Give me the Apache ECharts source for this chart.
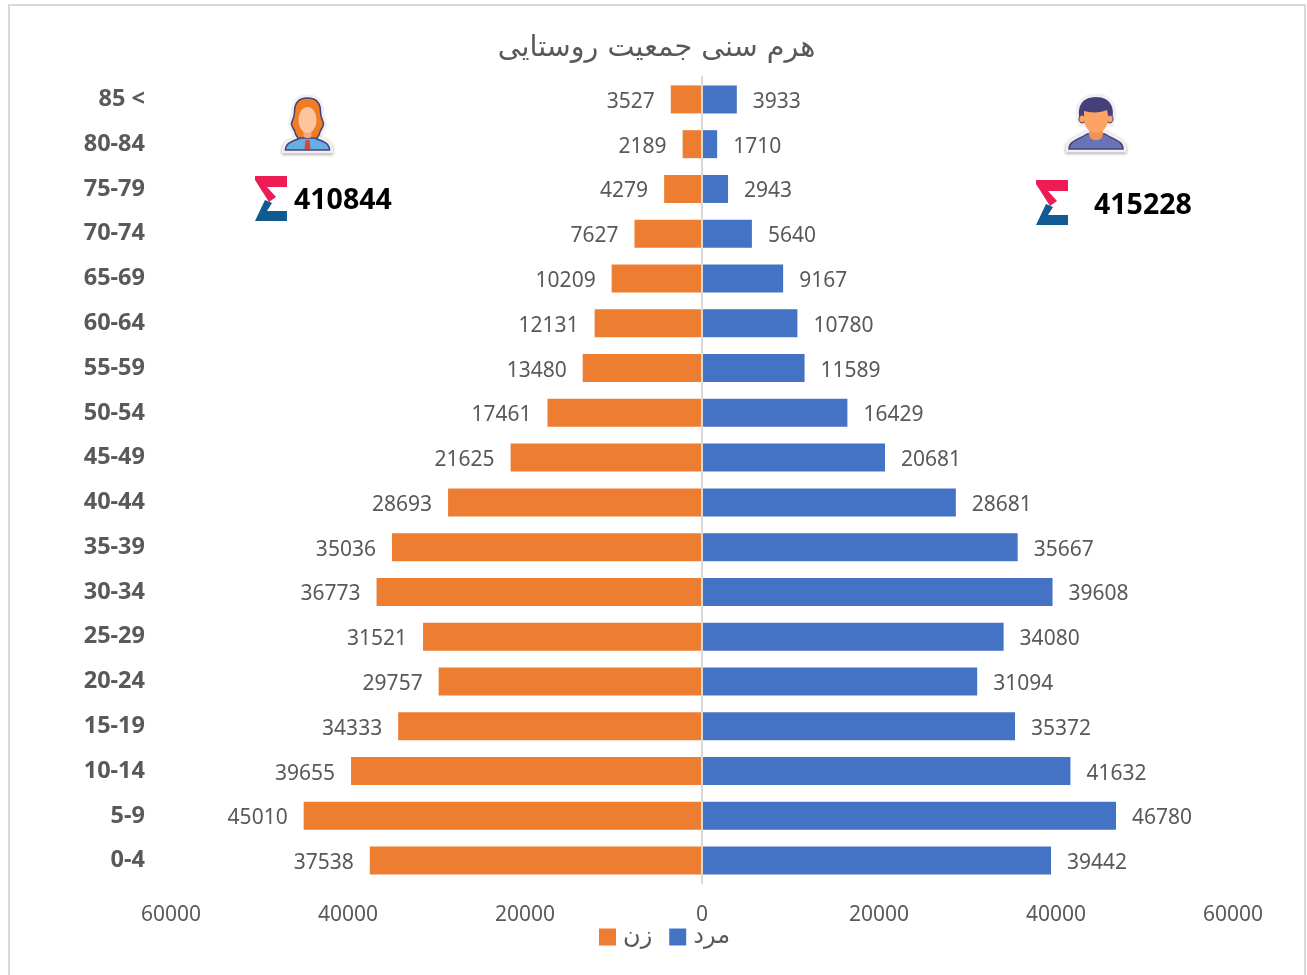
<!DOCTYPE html>
<html>
<head>
<meta charset="utf-8">
<title>هرم سنی جمعیت روستایی</title>
<script src="https://cdn.jsdelivr.net/npm/echarts@6/dist/echarts.min.js"></script>
<style>
  html, body { margin: 0; padding: 0; background: #fff; }
  #chart { width: 1307px; height: 975px; }
</style>
</head>
<body>
<div id="chart"></div>
<script>
const ageGroups = ['0-4','5-9','10-14','15-19','20-24','25-29','30-34','35-39','40-44','45-49','50-54','55-59','60-64','65-69','70-74','75-79','80-84','85 <'];
const women = [37538,45010,39655,34333,29757,31521,36773,35036,28693,21625,17461,13480,12131,10209,7627,4279,2189,3527];
const men = [39442,46780,41632,35372,31094,34080,39608,35667,28681,20681,16429,11589,10780,9167,5640,2943,1710,3933];
const womenTotal = '410844';
const menTotal = '415228';

const grey = '#595959';
const ink = '#46407a';
const pale = '#f0f0f0';
const font = '"Noto Sans", sans-serif';
const persianFont = '"DejaVu Sans", sans-serif';

// icon outlines, registered so the graphic component can use them by name
const iconPaths = {
  womanHair: 'M0 5C-10 5 -13 11 -13 19C-13 25 -16 28 -16 31C-16 35 -12 37 -12 41L-9 46L9 46L12 41C12 37 16 35 16 31C16 28 13 25 13 19C13 11 10 5 0 5Z',
  womanBody: 'M-22 57C-22 50 -15 48 -7 45L7 45C15 48 22 50 22 57Z',
  manHair: 'M-15 30C-20 18 -17 4 0 4C15 4 20 16 15 30Z',
  manBody: 'M-27 56C-27 48 -18 47 -9 41L9 41C18 47 27 48 27 56Z',
  manFace: 'M-12 18C-5 20 5 20 11 17C12 20 12 24 12 27C12 34 6 40 0 40C-6 40 -12 34 -12 27Z'
};
Object.keys(iconPaths).forEach(function (name) {
  echarts.graphic.registerShape(name, echarts.graphic.extendPath(iconPaths[name], {}));
});

// sigma logo, red top half and blue bottom half
function sigma(x, y) {
  return {
    type: 'group', x: x, y: y, silent: true,
    children: [
      { type: 'polygon', shape: { points: [[0, 0], [32, 0], [32, 11], [12, 11], [21, 21], [14, 26], [0, 4]] }, style: { fill: '#ee1c54' } },
      { type: 'polygon', shape: { points: [[0, 45], [10, 24], [17, 27], [12, 35], [32, 35], [32, 45]] }, style: { fill: '#125a92' } }
    ]
  };
}

function woman(x, y) {
  return {
    type: 'group', x: x, y: y, silent: true,
    children: [
      { type: 'womanHair', style: { fill: pale, stroke: pale, lineWidth: 7 } },
      { type: 'womanBody', style: { fill: pale, stroke: pale, lineWidth: 7, shadowBlur: 3, shadowColor: '#999', shadowOffsetY: 1 } },
      { type: 'womanHair', style: { fill: '#ef7d22', stroke: ink, lineWidth: 1.5 } },
      { type: 'womanBody', style: { fill: '#64b0e4', stroke: ink, lineWidth: 1.5 } },
      { type: 'polygon', shape: { points: [[-2, 47], [2, 47], [3, 56], [-3, 56]] }, style: { fill: '#d8473c' } },
      { type: 'rect', shape: { x: -4, y: 34, width: 8, height: 11, r: 3 }, style: { fill: '#f4a97e' } },
      { type: 'ellipse', shape: { cx: 0, cy: 27, rx: 9, ry: 13 }, style: { fill: '#fdc49e' } }
    ]
  };
}

function man(x, y) {
  return {
    type: 'group', x: x, y: y, silent: true,
    children: [
      { type: 'manHair', style: { fill: pale, stroke: pale, lineWidth: 7 } },
      { type: 'manBody', style: { fill: pale, stroke: pale, lineWidth: 7, shadowBlur: 3, shadowColor: '#999', shadowOffsetY: 1 } },
      { type: 'manBody', style: { fill: '#6a72b8', stroke: ink, lineWidth: 1.5 } },
      { type: 'manHair', style: { fill: ink } },
      { type: 'ellipse', shape: { cx: -14, cy: 26, rx: 3, ry: 4 }, style: { fill: '#fba465', stroke: ink, lineWidth: 1 } },
      { type: 'ellipse', shape: { cx: 14, cy: 26, rx: 3, ry: 4 }, style: { fill: '#fba465', stroke: ink, lineWidth: 1 } },
      { type: 'rect', shape: { x: -7, y: 33, width: 14, height: 14, r: 6 }, style: { fill: '#f09355' } },
      { type: 'manFace', style: { fill: '#fba465' } }
    ]
  };
}

function totalText(x, y, text) {
  return { type: 'text', silent: true, style: { x: x, y: y, text: text, fill: '#000', font: 'bold 28.5px ' + font, textVerticalAlign: 'middle' } };
}

const chart = echarts.init(document.getElementById('chart'));
chart.setOption({
  animation: false,
  backgroundColor: '#fff',
  title: {
    text: 'هرم سنی جمعیت روستایی',
    left: 651.5,
    top: 29,
    textAlign: 'center',
    textStyle: { color: grey, fontSize: 28.6, fontWeight: 'normal', fontFamily: persianFont }
  },
  legend: {
    data: ['زن', 'مرد'],
    left: 594,
    top: 920,
    itemWidth: 17,
    itemHeight: 17,
    itemGap: 17,
    icon: 'rect',
    textStyle: { color: grey, fontSize: 24, fontFamily: persianFont, padding: [12, 0, 0, 2] }
  },
  grid: { left: 171, right: 74, top: 77, bottom: 92 },
  xAxis: {
    type: 'value',
    min: -60000,
    max: 60000,
    interval: 20000,
    splitLine: { show: false },
    axisLine: { show: false },
    axisTick: { show: false },
    axisLabel: {
      color: grey,
      fontSize: 21,
      fontFamily: font,
      margin: 22,
      formatter: function (v) { return Math.abs(v); }
    }
  },
  yAxis: {
    type: 'category',
    z: 5,
    data: ageGroups,
    axisLine: { onZero: true, lineStyle: { color: '#d9d9d9', width: 2 } },
    axisTick: { show: false },
    axisLabel: {
      color: grey,
      fontSize: 23.5,
      fontWeight: 'bold',
      fontFamily: font,
      margin: 26,
      padding: [5, 0, 0, 0]
    }
  },
  series: [
    {
      name: 'زن',
      type: 'bar',
      stack: 'pyramid',
      barWidth: 28,
      itemStyle: { color: '#ed7d31' },
      data: women.map(function (v) { return -v; }),
      label: {
        show: true,
        position: 'left',
        distance: 16,
        offset: [0, 2.5],
        color: grey,
        fontSize: 21,
        fontFamily: font,
        formatter: function (p) { return Math.abs(p.value); }
      }
    },
    {
      name: 'مرد',
      type: 'bar',
      stack: 'pyramid',
      barWidth: 28,
      itemStyle: { color: '#4472c4' },
      data: men,
      label: {
        show: true,
        position: 'right',
        distance: 16,
        offset: [0, 2.5],
        color: grey,
        fontSize: 21,
        fontFamily: font
      }
    }
  ],
  graphic: {
    elements: [
      // frame of the picture
      { type: 'rect', silent: true, shape: { x: 9, y: 5, width: 1296, height: 980 }, style: { fill: 'none', stroke: '#d9d9d9', lineWidth: 2 } },
      woman(307.5, 93),
      man(1096, 93),
      sigma(255, 176),
      sigma(1036, 180),
      totalText(294, 201, womenTotal),
      totalText(1094, 206, menTotal)
    ]
  }
});

window.addEventListener('resize', function () {
  chart.resize();
});
</script>
</body>
</html>
